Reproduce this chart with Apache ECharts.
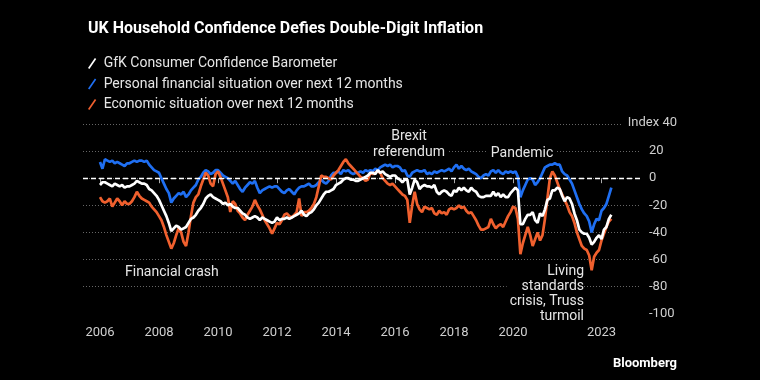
<!DOCTYPE html>
<html>
<head>
<meta charset="utf-8">
<script src="https://cdn.jsdelivr.net/npm/echarts@6/dist/echarts.min.js"></script>
<style>
html,body{margin:0;padding:0;background:#000;}
#chart{width:760px;height:380px;}
</style>
</head>
<body>
<div id="chart"></div>
<script>
// ---- Data (monthly, Jan 2006 .. May 2023) ----
const startYear = 2006;
const seriesNames = [
  'GfK Consumer Confidence Barometer',
  'Personal financial situation over next 12 months',
  'Economic situation over next 12 months'
];
const gfk = [
  -5,-3,-3,-4,-5,-6,-4,-5,-6,-5,-7,-6,
  -6,-5,-4,-2,-3,-4,-4,-5,-8,-9,-11,-13,
  -16,-20,-24,-28,-33,-39,-37,-35,-36,-38,-37,-36,
  -33,-30,-29,-27,-24,-22,-19,-15,-13,-12,-14,-15,
  -16,-17,-19,-18,-20,-19,-21,-22,-22,-24,-26,-27,
  -29,-30,-29,-28,-29,-31,-29,-30,-31,-32,-33,-32,
  -29,-31,-30,-30,-29,-30,-29,-28,-27,-26,-24,-27,
  -28,-26,-25,-23,-20,-18,-15,-12,-10,-10,-9,-8,
  -5,-4,-3,-1,0,0,-1,-1,-2,-2,-1,0,
  1,2,4,4,3,6,4,5,3,2,1,2,
  2,0,-1,-3,-1,-1,-12,-7,-1,-3,-8,-6,
  -5,-6,-6,-7,-5,-10,-12,-10,-9,-10,-12,-13,
  -9,-10,-7,-9,-7,-9,-10,-7,-9,-10,-13,-14,
  -14,-13,-13,-13,-10,-13,-11,-14,-12,-14,-14,-11,
  -9,-7,-9,-34,-34,-30,-27,-27,-25,-31,-33,-26,
  -28,-23,-16,-15,-9,-9,-7,-8,-13,-17,-14,-15,
  -19,-26,-31,-38,-40,-41,-41,-44,-49,-47,-44,-42,
  -45,-38,-36,-30,-27
];
const personal = [
  12,7,14,13,12,13,11,12,11,10,9,11,
  11,12,13,12,13,13,12,13,10,8,6,5,
  4,0,-4,-8,-11,-18,-15,-13,-11,-12,-10,-14,
  -12,-9,-7,-5,-1,1,4,6,5,3,4,6,
  6,4,2,1,0,-2,-4,-2,-5,-8,-10,-7,
  -5,-3,-4,-2,-7,-11,-9,-8,-7,-6,-7,-6,
  -6,-8,-10,-11,-9,-8,-10,-12,-9,-7,-6,-6,
  -5,-4,-6,-6,-5,-3,-1,-3,-4,-2,2,4,
  4,5,3,6,5,6,4,3,4,4,5,4,
  6,5,6,5,7,6,8,9,10,9,10,8,
  9,9,8,5,6,2,1,4,5,6,5,5,
  6,3,4,3,5,4,5,6,5,6,7,5,
  8,10,7,9,7,6,7,5,4,3,1,0,
  2,3,2,5,6,4,6,4,3,5,4,5,
  4,5,1,-14,-9,-5,-1,0,-1,-5,-3,0,
  4,8,9,10,10,11,10,10,5,3,2,-1,
  -4,-9,-14,-19,-23,-26,-28,-32,-40,-34,-30,-31,
  -24,-22,-19,-13,-7
];
const economic = [
  -14,-17,-18,-17,-15,-21,-18,-15,-17,-20,-17,-19,
  -19,-17,-14,-10,-13,-15,-16,-17,-18,-21,-23,-25,
  -28,-31,-36,-42,-47,-52,-48,-42,-37,-40,-47,-50,
  -40,-28,-18,-14,-12,-6,-1,4,2,-4,-6,3,
  5,1,-4,-9,-14,-25,-17,-19,-24,-26,-29,-31,
  -27,-24,-21,-16,-20,-23,-27,-31,-34,-37,-41,-37,
  -33,-34,-31,-27,-26,-28,-29,-27,-25,-15,-28,-25,
  -25,-24,-22,-19,-14,-6,2,1,1,0,-1,2,
  4,6,9,12,14,11,9,7,5,3,1,0,
  -2,-1,4,3,4,5,4,0,-2,-4,-5,-4,
  -6,-8,-10,-12,-13,-16,-33,-20,-10,-19,-23,-25,
  -21,-22,-23,-22,-26,-27,-24,-26,-25,-27,-23,-22,
  -23,-22,-20,-22,-21,-24,-26,-25,-28,-31,-35,-38,
  -38,-37,-36,-30,-34,-37,-35,-34,-36,-32,-28,-25,
  -21,-22,-30,-56,-48,-42,-36,-42,-50,-45,-40,-46,
  -42,-30,-15,0,5,2,-3,-8,-12,-16,-20,-25,
  -28,-33,-40,-45,-50,-52,-53,-57,-68,-58,-55,-53,
  -46,-41,-36,-32,-30
];
const xTickYears = [2006, 2008, 2010, 2012, 2014, 2016, 2018, 2020, 2023];
const yTicks = [-100, -80, -60, -40, -20, 0, 20, 40];
const annotations = {
  brexit: 'Brexit\nreferendum',
  pandemic: 'Pandemic',
  crash: 'Financial crash',
  living: 'Living\nstandards\ncrisis, Truss\nturmoil'
};

// ---- Chart ----
const FONT = 'Roboto';
const toPairs = arr => arr.map((v, i) => [startYear + i / 12, v]);
const colors = ['#ffffff', '#1f6ff2', '#f0602e'];

const chart = echarts.init(document.getElementById('chart'), null, {renderer: 'canvas'});
const option = {
  backgroundColor: '#000',
  animation: false,
  textStyle: {fontFamily: FONT},
  title: {
    text: 'UK Household Confidence Defies Double-Digit Inflation',
    left: 83, top: 16,
    textStyle: {color: '#fff', fontSize: 16, fontWeight: 'bold', fontFamily: FONT}
  },
  legend: {
    orient: 'vertical',
    left: 83, top: 51,
    itemWidth: 9, itemHeight: 11, itemGap: 5.5,
    icon: 'path://M0,11 L7.5,0 L9,1.2 L1.5,12 Z',
    textStyle: {color: '#e6e6e6', fontSize: 14, fontFamily: FONT, lineHeight: 15, padding: [0, 0, 0, 2]},
    data: seriesNames
  },
  grid: {left: 83, right: 120, top: 124, bottom: 66.3},
  xAxis: {
    type: 'value',
    min: 2006 - 17 / 29.5,
    max: 2006 + 540 / 29.5,
    splitLine: {show: false},
    axisLine: {show: false},
    axisTick: {show: true, length: 5, customValues: xTickYears, lineStyle: {color: '#aaa'}},
    axisLabel: {
      customValues: xTickYears,
      margin: 13, color: '#cfcfcf', fontSize: 13, fontFamily: FONT,
      formatter: v => String(Math.round(v))
    }
  },
  yAxis: {
    type: 'value',
    position: 'right',
    min: -100, max: 40, interval: 20,
    axisLine: {show: false},
    axisTick: {show: false},
    splitLine: {show: true, showMinLine: false, lineStyle: {color: '#666', type: [1, 2], width: 1}},
    axisLabel: {
      margin: 9, color: '#cfcfcf', fontSize: 13, fontFamily: FONT,
      formatter: v => (v === 40 ? '' : String(v))
    }
  },
  series: [
    {
      name: seriesNames[0], type: 'line', data: toPairs(gfk), showSymbol: false,
      lineStyle: {color: colors[0], width: 2.7}, itemStyle: {color: colors[0]}, z: 5
    },
    {
      name: seriesNames[1], type: 'line', data: toPairs(personal), showSymbol: false,
      lineStyle: {color: colors[1], width: 2.7}, itemStyle: {color: colors[1]}, z: 3,
      markLine: {
        silent: true, symbol: 'none', label: {show: false},
        lineStyle: {type: [5, 3], color: '#fff', width: 1.4},
        data: [{yAxis: 0}]
      }
    },
    {
      name: seriesNames[2], type: 'line', data: toPairs(economic), showSymbol: false,
      lineStyle: {color: colors[2], width: 2.7}, itemStyle: {color: colors[2]}, z: 4
    }
  ],
  graphic: [
    {type: 'text', right: 760 - 677, top: 116, z: 10,
      style: {text: 'Index 40', fill: '#cfcfcf', font: '13px ' + FONT, backgroundColor: '#000', padding: [0, 0, 0, 6]}},
    {type: 'text', x: 409, y: 128, z: 10,
      style: {text: annotations.brexit, fill: '#e6e6e6', font: '14px ' + FONT, align: 'center', lineHeight: 16,
        backgroundColor: '#000', padding: [0, 3, 0, 3]}},
    {type: 'text', x: 522, y: 145, z: 10,
      style: {text: annotations.pandemic, fill: '#e6e6e6', font: '14px ' + FONT, align: 'center', lineHeight: 16,
        backgroundColor: '#000', padding: [0, 3, 0, 3]}},
    {type: 'text', x: 125, y: 264, z: 10,
      style: {text: annotations.crash, fill: '#e6e6e6', font: '14px ' + FONT, lineHeight: 16}},
    {type: 'text', x: 584, y: 264, z: 10,
      style: {text: annotations.living, fill: '#e6e6e6', font: '14px ' + FONT, align: 'right', lineHeight: 15,
        backgroundColor: '#000', padding: [0, 0, 0, 3]}},
    {type: 'text', right: 760 - 677, top: 357, z: 10,
      style: {text: 'Bloomberg', fill: '#fff', font: 'bold 13px ' + FONT}}
  ]
};
chart.setOption(option);
</script>
</body>
</html>
